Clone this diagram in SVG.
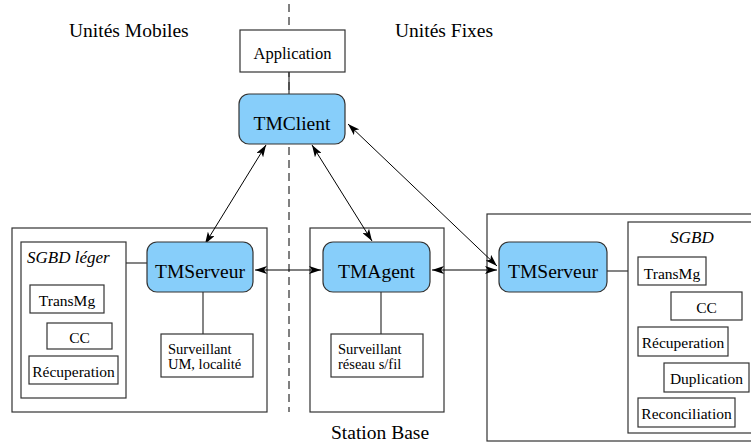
<svg xmlns="http://www.w3.org/2000/svg" width="751" height="443" viewBox="0 0 751 443" font-family="Liberation Serif, DejaVu Serif, serif">
<style>
text{fill:#000}
.big{font-size:19.5px}
.mid{font-size:16.5px}
.sm{font-size:15.5px}
.sv{font-size:14.5px}
.it{font-size:17px;font-style:italic}
.box{fill:#fff;stroke:#333;stroke-width:1.2}
.node{fill:#87cefa;stroke:#333;stroke-width:1.2}
.ln{stroke:#333;stroke-width:1.2;fill:none}
.ar{stroke:#000;stroke-width:1;fill:none;marker-start:url(#ah);marker-end:url(#ah)}
</style>
<defs>
<marker id="ah" viewBox="0 0 12 8" refX="12" refY="4" markerWidth="12" markerHeight="8" markerUnits="userSpaceOnUse" orient="auto-start-reverse">
<path d="M0,0 L12,4 L0,8 L3,4 z" fill="#000"/>
</marker>
</defs>
<rect width="751" height="443" fill="#fff"/>
<line x1="289" y1="4" x2="289" y2="412" stroke="#000" stroke-width="1" stroke-dasharray="8 5"/>
<text class="big" x="69" y="37">Unités Mobiles</text>
<text class="big" x="395" y="37">Unités Fixes</text>
<text class="big" x="331" y="439">Station Base</text>
<g id="mobile">
<rect class="box" x="12" y="228" width="255" height="184"/>
<rect class="box" x="21" y="242" width="105" height="156"/>
<text class="it" x="27" y="263">SGBD léger</text>
</g>
<g id="station">
<rect class="box" x="310" y="228" width="134" height="184"/>
</g>
<g id="fixe">
<rect class="box" x="487" y="214" width="280" height="227"/>
<rect class="box" x="628" y="222" width="140" height="211"/>
<text class="it" x="692" y="243" text-anchor="middle">SGBD</text>
</g>
<g id="connectors">
<line class="ln" x1="289" y1="72" x2="289" y2="94"/>
<line class="ln" x1="126" y1="263" x2="147" y2="263"/>
<line class="ln" x1="203" y1="292" x2="203" y2="334"/>
<line class="ln" x1="381" y1="292" x2="381" y2="334"/>
<line class="ln" x1="607" y1="271" x2="628" y2="271"/>
<line class="ar" x1="266" y1="145" x2="205" y2="244"/>
<line class="ar" x1="312" y1="145" x2="372" y2="241"/>
<line class="ar" x1="348" y1="124" x2="497" y2="266"/>
<line class="ar" x1="255" y1="270" x2="321" y2="270"/>
<line class="ar" x1="432" y1="270" x2="497" y2="270"/>
</g>
<g id="application">
<rect class="box" x="240" y="30" width="105" height="42"/>
<text class="mid" x="292.5" y="59" text-anchor="middle">Application</text>
</g>
<g id="tmclient">
<rect class="node" x="239" y="94" width="106" height="50" rx="10"/>
<text class="big" x="292" y="130" text-anchor="middle">TMClient</text>
</g>
<g id="tmserveur-mobile">
<rect class="node" x="147" y="242" width="106" height="50" rx="10"/>
<text class="big" x="200" y="278" text-anchor="middle">TMServeur</text>
</g>
<g id="tmagent">
<rect class="node" x="323" y="242" width="107" height="50" rx="10"/>
<text class="big" x="376.5" y="278" text-anchor="middle">TMAgent</text>
</g>
<g id="tmserveur-fixe">
<rect class="node" x="499" y="242" width="108" height="50" rx="10"/>
<text class="big" x="553" y="278" text-anchor="middle">TMServeur</text>
</g>
<g id="transmg-l"><rect class="box" x="30" y="285" width="74" height="28"/><text class="sm" x="67" y="306" text-anchor="middle">TransMg</text></g>
<g id="cc-l"><rect class="box" x="47" y="323" width="65" height="26"/><text class="sm" x="79.5" y="343" text-anchor="middle">CC</text></g>
<g id="recup-l"><rect class="box" x="29" y="356" width="89" height="28"/><text class="sm" x="73.5" y="377" text-anchor="middle">Récuperation</text></g>
<g id="surv-um"><rect class="box" x="161" y="334" width="92" height="43"/><text class="sv" x="168" y="354">Surveillant</text><text class="sv" x="168" y="369">UM, localité</text></g>
<g id="surv-reseau"><rect class="box" x="331" y="334" width="92" height="43"/><text class="sv" x="338" y="354">Surveillant</text><text class="sv" x="338" y="369">réseau s/fil</text></g>
<g id="transmg-r"><rect class="box" x="638" y="257" width="68" height="28"/><text class="sm" x="672" y="279" text-anchor="middle">TransMg</text></g>
<g id="cc-r"><rect class="box" x="671" y="292" width="71" height="28"/><text class="sm" x="706.5" y="313" text-anchor="middle">CC</text></g>
<g id="recup-r"><rect class="box" x="638" y="327" width="90" height="29"/><text class="sm" x="683" y="348" text-anchor="middle">Récuperation</text></g>
<g id="duplication"><rect class="box" x="664" y="363" width="85" height="29"/><text class="sm" x="706.5" y="384" text-anchor="middle">Duplication</text></g>
<g id="reconciliation"><rect class="box" x="638" y="398" width="97" height="29"/><text class="sm" x="686.5" y="419" text-anchor="middle">Reconciliation</text></g>
</svg>
